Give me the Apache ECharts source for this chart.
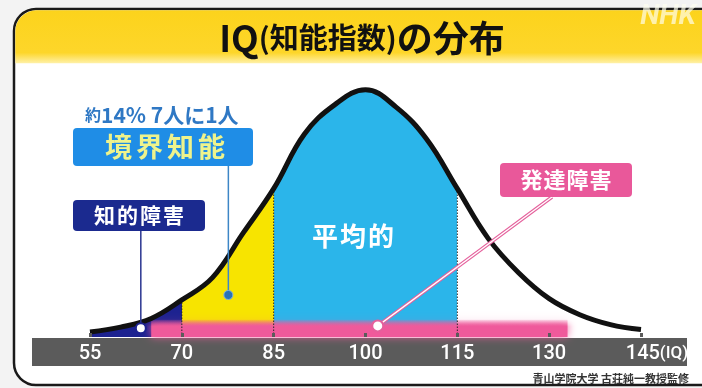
<!DOCTYPE html>
<html><head><meta charset="utf-8">
<script src="https://cdn.jsdelivr.net/npm/echarts@6/dist/echarts.min.js"></script>
<style>html,body{margin:0;padding:0;background:#f3f3f3}#c{width:702px;height:388px}</style>
</head><body><div id="c"></div><script>
// IQ positions and relative curve height (% of peak)
const iq = [55,60,65,70,75,80,85,90,95,100,105,110,115,120,125,130,135,140,145];
const density = [2,4,7.5,15,24,42,60,82,94,100,93,80,60,40,26,15.5,9,5,3];
const tickLabels = [55,70,85,100,115,130,145];
const bandEdges = [70,85,115];
const devRange = [65,133,7];            // 発達障害 band: from, to, thickness
const anchorNavy = [63.3,3.5];          // 知的障害 pointer
const anchorBorder = [77.6,17];         // 境界知能 pointer
const anchorDev = [102,4.5];            // 発達障害 pointer

const JP = '"Noto Sans CJK JP","Noto Sans",sans-serif';
const pairs = iq.map((x,i)=>[x,density[i]]);
const edgeSeries = bandEdges.map(e=>({
  type:'line', data:[[e,0],[e,density[iq.indexOf(e)]]], symbol:'none', silent:true, z:3,
  lineStyle:{color:'#2a2a2a', width:1, type:[1.5,1.5]}
}));
function spaced(t, size, color, pad){
  return {text:t.split('').map(ch=>'{c|'+ch+'}').join(''), align:'center', verticalAlign:'middle',
    rich:{c:{fontSize:size, fontWeight:'bold', fontFamily:JP, fill:color, padding:[0,pad]}}};
}

const chart = echarts.init(document.getElementById('c'), null, {renderer:'canvas'});
chart.setOption({
  backgroundColor:'#f3f3f3',
  animation:false,
  grid:{left:90, right:61, top:70, bottom:51},
  xAxis:{type:'value', min:55, max:145, z:6, axisLine:{show:false}, splitLine:{show:false},
    axisTick:{show:true, customValues:tickLabels, length:4, inside:true, lineStyle:{color:'#5b5b5b', width:3}},
    axisLabel:{customValues:tickLabels, margin:7, color:'#fff',
      formatter:v=> v===145 ? '{p|}{n|145}{u|(IQ)}' : '{n|'+v+'}',
      rich:{n:{color:'#fff', fontSize:20, fontWeight:500, fontFamily:'Roboto'}, u:{color:'#fff', fontSize:17, fontWeight:500, fontFamily:'Roboto'}, p:{width:32}}}},
  yAxis:{type:'value', min:0, max:108, show:false},
  visualMap:{show:false, type:'piecewise', seriesIndex:0, dimension:0,
    pieces:[{lt:70,color:'#1c2290'},{gte:70,lt:85,color:'#f7e400'},{gte:85,lt:115,color:'#2bb5ea'},{gte:115,color:'#ffffff'}]},
  series:[
    {type:'line', data:pairs, smooth:0.4, symbol:'none', silent:true, lineStyle:{width:0}, areaStyle:{opacity:1}, z:2},
    {type:'custom', data:[devRange], encode:{x:[0,1], y:2}, z:3, silent:true,
      renderItem:function(params, api){
        const p0 = api.coord([api.value(0), 0]);
        const p1 = api.coord([api.value(1), api.value(2)]);
        return {type:'rect', shape:{x:p0[0], y:p1[1], width:p1[0]-p0[0], height:p0[1]-p1[1]},
          style:{fill:new echarts.graphic.LinearGradient(0,0,0,1,[{offset:0,color:'rgba(239,90,155,0.15)'},{offset:0.4,color:'rgba(239,90,155,1)'},{offset:1,color:'rgba(239,90,155,1)'}]),
            shadowBlur:8, shadowColor:'rgba(239,90,155,0.9)'}};
      }},
    ...edgeSeries,
    {type:'line', data:pairs, smooth:0.4, symbol:'none', silent:true, lineStyle:{color:'#111', width:5}, z:5}
  ]
});

const pN = chart.convertToPixel({gridIndex:0}, anchorNavy);
const pB = chart.convertToPixel({gridIndex:0}, anchorBorder);
const pD = chart.convertToPixel({gridIndex:0}, anchorDev);

chart.setOption({graphic:[
  {type:'rect', z:-3, shape:{x:14,y:9,width:760,height:376,r:22}, style:{fill:'#fff', stroke:'#1a1a1a', lineWidth:2.5}},
  {type:'rect', z:-2, shape:{x:15.3,y:10.3,width:760,height:53,r:[21,0,0,0]},
    style:{fill:new echarts.graphic.LinearGradient(0,0,0,1,[{offset:0,color:'#fcd31c'},{offset:0.8,color:'#fdd62a'},{offset:1,color:'#fff1a8'}])}},
  {type:'text', z:10, x:362, y:38, style:{text:'{a|IQ}{b|(知能指数)}{a|の分布}', align:'center', verticalAlign:'middle',
    rich:{a:{fontSize:36, fontWeight:'bold', fontFamily:JP, fill:'#111'}, b:{fontSize:29, fontWeight:'bold', fontFamily:JP, fill:'#111'}}}},
  {type:'text', z:10, x:668, y:17, style:{text:'NHK', align:'center', verticalAlign:'middle', font:'italic bold 28px Roboto', fill:'rgba(255,255,240,0.68)'}},
  {type:'rect', z:-1, shape:{x:32,y:338,width:655,height:28}, style:{fill:'#5b5b5b'}},
  {type:'text', z:10, x:689, y:379, style:{text:'青山学院大学 古荘純一教授監修', align:'right', verticalAlign:'middle', font:'bold 11px '+JP, fill:'#333'}},
  // 約14% label
  {type:'text', z:10, x:85, y:115, style:{text:'{s|約}{b|14%}{c| 7人に1人}', align:'left', verticalAlign:'middle',
    rich:{s:{fontSize:16, fontWeight:'bold', fontFamily:JP, fill:'#2f78c4'}, b:{fontSize:21, fontWeight:'bold', fontFamily:JP, fill:'#2f78c4'}, c:{fontSize:21, fontWeight:'bold', fontFamily:JP, fill:'#2f78c4'}}}},
  // 境界知能
  {type:'line', z:10, shape:{x1:pB[0],y1:166,x2:pB[0],y2:pB[1]}, style:{stroke:'#3d86c6', lineWidth:1.5}},
  {type:'circle', z:11, shape:{cx:pB[0],cy:pB[1],r:4.5}, style:{fill:'#2a73b7', stroke:'#7fb3e0', lineWidth:1}},
  {type:'rect', z:10, shape:{x:73,y:128,width:180,height:38,r:4}, style:{fill:'#1f8de6'}},
  Object.assign({type:'text', z:11, x:165, y:147}, {style:spaced('境界知能', 27, '#eef38c', 2)}),
  // 知的障害
  {type:'line', z:10, shape:{x1:pN[0],y1:231,x2:pN[0],y2:pN[1]-5}, style:{stroke:'#2a3590', lineWidth:1.5}},
  {type:'circle', z:11, shape:{cx:pN[0],cy:pN[1],r:5}, style:{fill:'#fff', stroke:'#1c2290', lineWidth:2}},
  {type:'rect', z:10, shape:{x:73,y:200,width:132,height:31,r:4}, style:{fill:'#1b2a8f'}},
  Object.assign({type:'text', z:11, x:139, y:215.5}, {style:spaced('知的障害', 21, '#fff', 1)}),
  // 平均的
  Object.assign({type:'text', z:11, x:353, y:236}, {style:spaced('平均的', 26, '#fff', 1)}),
  // 発達障害
  {type:'line', z:10, shape:{x1:552,y1:197,x2:pD[0],y2:pD[1]}, style:{stroke:'#e5609c', lineWidth:3.5}},
  {type:'line', z:10, shape:{x1:552,y1:197,x2:pD[0],y2:pD[1]}, style:{stroke:'#fff', lineWidth:1.3}},
  {type:'circle', z:11, shape:{cx:pD[0],cy:pD[1],r:5.5}, style:{fill:'#fff', stroke:'#e5609c', lineWidth:2}},
  {type:'rect', z:10, shape:{x:500,y:163,width:132,height:34,r:4}, style:{fill:'#e9589a'}},
  Object.assign({type:'text', z:11, x:566, y:180}, {style:spaced('発達障害', 22, '#fff', 0.5)})
]});
</script></body></html>
